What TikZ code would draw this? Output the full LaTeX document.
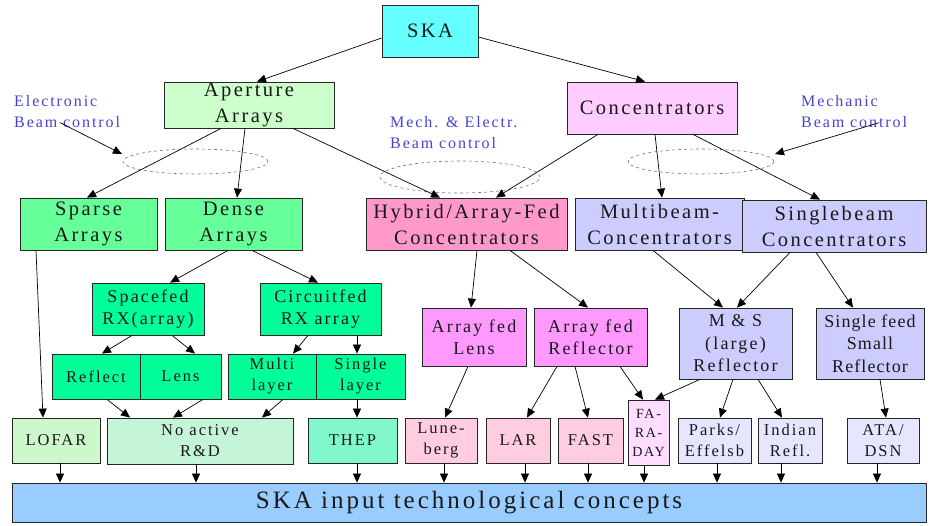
\documentclass[tikz,border=0pt]{standalone}
\usepackage{fontspec}
\setmainfont{Liberation Serif}[LetterSpace=12]
\usetikzlibrary{arrows.meta,calc,shapes.geometric}
\definecolor{cska}{HTML}{66FFFF}
\definecolor{cap}{HTML}{CCFFCC}
\definecolor{cconc}{HTML}{FFCCFF}
\definecolor{cgreen}{HTML}{66FF99}
\definecolor{chyb}{HTML}{FF99CC}
\definecolor{cviol}{HTML}{CCCCFF}
\definecolor{cmint}{HTML}{00FF99}
\definecolor{cmag}{HTML}{FF99FF}
\definecolor{clofar}{HTML}{CCF8CC}
\definecolor{cnoact}{HTML}{C4F5D8}
\definecolor{cthep}{HTML}{80F8CC}
\definecolor{cpink}{HTML}{FFCCE0}
\definecolor{cfara}{HTML}{FFDDFF}
\definecolor{clav}{HTML}{E6E6FF}
\definecolor{cbar}{HTML}{99CCFF}
\definecolor{cblue}{HTML}{4444D4}
\newcommand\myfs[2]{\fontsize{#1}{#2}\selectfont}
\begin{document}
\begin{tikzpicture}[x=1pt,y=-1pt,
  box/.style={draw=black!85,line width=0.8pt,rectangle,inner sep=0pt,align=center,text=black!90},
  big/.style={box,font=\myfs{20.5}{26}},
  mid/.style={box,font=\myfs{18}{22.5}},
  sml/.style={box,font=\myfs{16.5}{21}},
  arr/.style={draw=black,line width=0.7pt,-{Triangle[length=9pt,width=8pt]}},
  ann/.style={text=cblue,font=\myfs{16}{21},align=left,inner sep=0pt,anchor=north west},
  ell/.style={draw=black!55,dashed,line width=0.6pt}
]
\useasboundingbox (0,0) rectangle (929,525);
% top level
\node[big,fill=cska,minimum width=96pt,minimum height=52pt] (ska) at (430,31) {SKA};
\node[big,fill=cap,minimum width=170pt,minimum height=46pt] (ap) at (249,105) {Aperture\\Arrays};
\node[big,fill=cconc,minimum width=170pt,minimum height=52pt] (conc) at (652,108) {Concentrators};
% row 2
\node[big,fill=cgreen,minimum width=137pt,minimum height=52pt] (sparse) at (88.5,224) {Sparse\\Arrays};
\node[big,fill=cgreen,minimum width=137pt,minimum height=52pt] (dense) at (233.5,224) {Dense\\Arrays};
\node[big,fill=chyb,minimum width=201pt,minimum height=52pt] (hybrid) at (466.5,224) {Hybrid/Array-Fed\\Concentrators};
\node[big,fill=cviol,minimum width=169pt,minimum height=52pt] (multi) at (659.5,224) {Multibeam-\\Concentrators};
\node[big,fill=cviol,minimum width=184pt,minimum height=52pt] (single) at (834,226) {Singlebeam\\Concentrators};
% row 3
\node[mid,fill=cmint,minimum width=112pt,minimum height=52pt] (spacefed) at (148,309) {Spacefed\\RX(array)};
\node[mid,fill=cmint,minimum width=121pt,minimum height=52pt] (circuit) at (320.5,309) {Circuitfed\\RX array};
\node[mid,fill=cmag,minimum width=104pt,minimum height=58pt] (aflens) at (474,337) {Array fed\\Lens};
\node[mid,fill=cmag,minimum width=113pt,minimum height=58pt] (afrefl) at (590.5,337) {Array fed\\Reflector};
\node[mid,fill=cviol,minimum width=113pt,minimum height=71pt] (ms) at (735.5,343.5) {M \& S\\(large)\\Reflector};
\node[mid,fill=cviol,minimum width=108pt,minimum height=71pt,font=\myfs{18}{22.5}\addfontfeatures{LetterSpace=6}] (sfeed) at (870,343.5) {Single feed\\Small\\Reflector};
% row 4
\node[sml,fill=cmint,minimum width=88pt,minimum height=45pt] (reflect) at (96,376.5) {Reflect};
\node[sml,fill=cmint,minimum width=81pt,minimum height=45pt] (lens) at (180.5,376.5) {Lens};
\node[sml,fill=cmint,minimum width=88pt,minimum height=45pt] (multil) at (272,376.5) {Multi\\layer};
\node[sml,fill=cmint,minimum width=89pt,minimum height=45pt] (singlel) at (360.5,376.5) {Single\\layer};
% row 5
\node[sml,fill=clofar,minimum width=88pt,minimum height=45pt] (lofar) at (56,440.5) {LOFAR};
\node[sml,fill=cnoact,minimum width=186pt,minimum height=46pt] (noact) at (200,441) {No active\\R\&D};
\node[sml,fill=cthep,minimum width=89pt,minimum height=45pt] (thep) at (352.5,440.5) {THEP};
\node[sml,fill=cpink,minimum width=72pt,minimum height=45pt] (lune) at (441,440.5) {Lune-\\berg};
\node[sml,fill=cpink,minimum width=64pt,minimum height=45pt] (lar) at (518,440.5) {LAR};
\node[sml,fill=cpink,minimum width=65pt,minimum height=45pt] (fast) at (590.5,440.5) {FAST};
\node[box,fill=cfara,minimum width=41pt,minimum height=65pt,font=\myfs{14}{19}] (faraday) at (648.5,432.5) {FA-\\RA-\\DAY};
\node[sml,fill=clav,minimum width=73pt,minimum height=45pt] (parks) at (714.5,440.5) {Parks/\\Effelsb};
\node[sml,fill=clav,minimum width=64pt,minimum height=45pt] (indian) at (790,440.5) {Indian\\Refl.};
\node[sml,fill=clav,minimum width=72pt,minimum height=45pt] (ata) at (883,440.5) {ATA/\\DSN};
% bottom bar
\node[box,fill=cbar,minimum width=914pt,minimum height=39pt,font=\myfs{25}{30}] (bar) at (469,502.5) {SKA input technological concepts};
% annotations
\node[ann] (elec) at (14,95) {Electronic\\Beam control};
\node[ann] (mech) at (390,116) {Mech. \& Electr.\\Beam control};
\node[ann] (mechan) at (801,95) {Mechanic\\Beam control};
\node[ell,ellipse,minimum width=145pt,minimum height=25pt,inner sep=0pt] (e1) at (195.5,161.5) {};
\node[ell,ellipse,minimum width=160pt,minimum height=32pt,inner sep=0pt] (e2) at (460,177) {};
\node[ell,ellipse,minimum width=146pt,minimum height=25pt,inner sep=0pt] (e3) at (701,161.5) {};
\coordinate (e1tip) at (122,154);
\coordinate (e3tip) at (775,154);
\draw[arr] ([xshift=-7pt,yshift=5pt]elec.south) -- (e1tip);
\draw[arr] ([xshift=-28pt,yshift=5pt]mechan.south east) -- (e3tip);
% connectors
\draw[arr] ([yshift=-7pt]ska.west) -- ([xshift=8pt]ap.north);
\draw[arr] ([yshift=-6pt]ska.east) -- ([xshift=-7pt]conc.north);
\draw[arr] ([xshift=-28pt]ap.south) -- ([xshift=-1.5pt]sparse.north);
\draw[arr] ([xshift=-4pt]ap.south) -- ([xshift=3.5pt]dense.north);
\draw[arr] ([xshift=44pt]ap.south) -- ([xshift=-26.5pt]hybrid.north);
\draw[arr] ([xshift=-54pt]conc.south) -- ([xshift=29.5pt]hybrid.north);
\draw[arr] ([xshift=3pt]conc.south) -- ([xshift=2.5pt]multi.north);
\draw[arr] ([xshift=41pt]conc.south) -- ([xshift=-14pt]single.north);
\draw[arr] ([xshift=-5.5pt]dense.south) -- ([xshift=22pt]spacefed.north);
\draw[arr] ([xshift=18.5pt]dense.south) -- ([xshift=-2.5pt]circuit.north);
\draw[arr] ([xshift=10.5pt]hybrid.south) -- ([xshift=-3pt]aflens.north);
\draw[arr] ([xshift=43.5pt]hybrid.south) -- ([xshift=-2.5pt]afrefl.north);
\draw[arr] ([xshift=-6.5pt]multi.south) -- ([xshift=-12.5pt]ms.north);
\draw[arr] ([xshift=-44pt]single.south) -- ([xshift=1.5pt]ms.north);
\draw[arr] ([xshift=-18pt]single.south) -- ([xshift=-17pt]sfeed.north);
\draw[arr] ([xshift=-16pt]spacefed.south) -- ([xshift=6pt]reflect.north);
\draw[arr] ([xshift=24pt]spacefed.south) -- ([xshift=14.5pt]lens.north);
\draw[arr] ([xshift=-12.5pt]circuit.south) -- ([xshift=21pt]multil.north);
\draw[arr] ([xshift=36.5pt]circuit.south) -- ([xshift=-3.5pt]singlel.north);
\draw[arr] ([xshift=-52.5pt]sparse.south) -- ([xshift=-13pt]lofar.north);
\draw[arr] ([xshift=11pt]reflect.south) -- ([xshift=-70pt]noact.north);
\draw[arr] ([xshift=22.5pt]lens.south) -- ([xshift=-27pt]noact.north);
\draw[arr] ([xshift=11pt]multil.south) -- ([xshift=62pt]noact.north);
\draw[arr] ([xshift=-3.5pt]singlel.south) -- ([xshift=4.5pt]thep.north);
\draw[arr] ([xshift=-6pt]aflens.south) -- ([xshift=4pt]lune.north);
\draw[arr] ([xshift=-33.5pt]afrefl.south) -- ([xshift=9pt]lar.north);
\draw[arr] ([xshift=-15.5pt]afrefl.south) -- ([xshift=-2.5pt]fast.north);
\draw[arr] ([xshift=29.5pt]afrefl.south) -- ([xshift=-5.5pt]faraday.north);
\draw[arr] ([xshift=-35.5pt]ms.south) -- ([xshift=6.5pt]faraday.north);
\draw[arr] ([xshift=-2.5pt]ms.south) -- ([xshift=5.5pt]parks.north);
\draw[arr] ([xshift=22.5pt]ms.south) -- ([xshift=-8pt]indian.north);
\draw[arr] ([xshift=10pt]sfeed.south) -- ([xshift=3pt]ata.north);
% to bar
\foreach \n/\s in {lofar/4,noact/-4,thep/4.5,lune/3,lar/7,fast/-2.5,faraday/-4.5,parks/2.5,indian/-9,ata/-6}{
  \draw[arr] ([xshift=\s pt]\n.south) -- ([xshift=\s pt]\n.south |- bar.north);
}
\end{tikzpicture}
\end{document}
